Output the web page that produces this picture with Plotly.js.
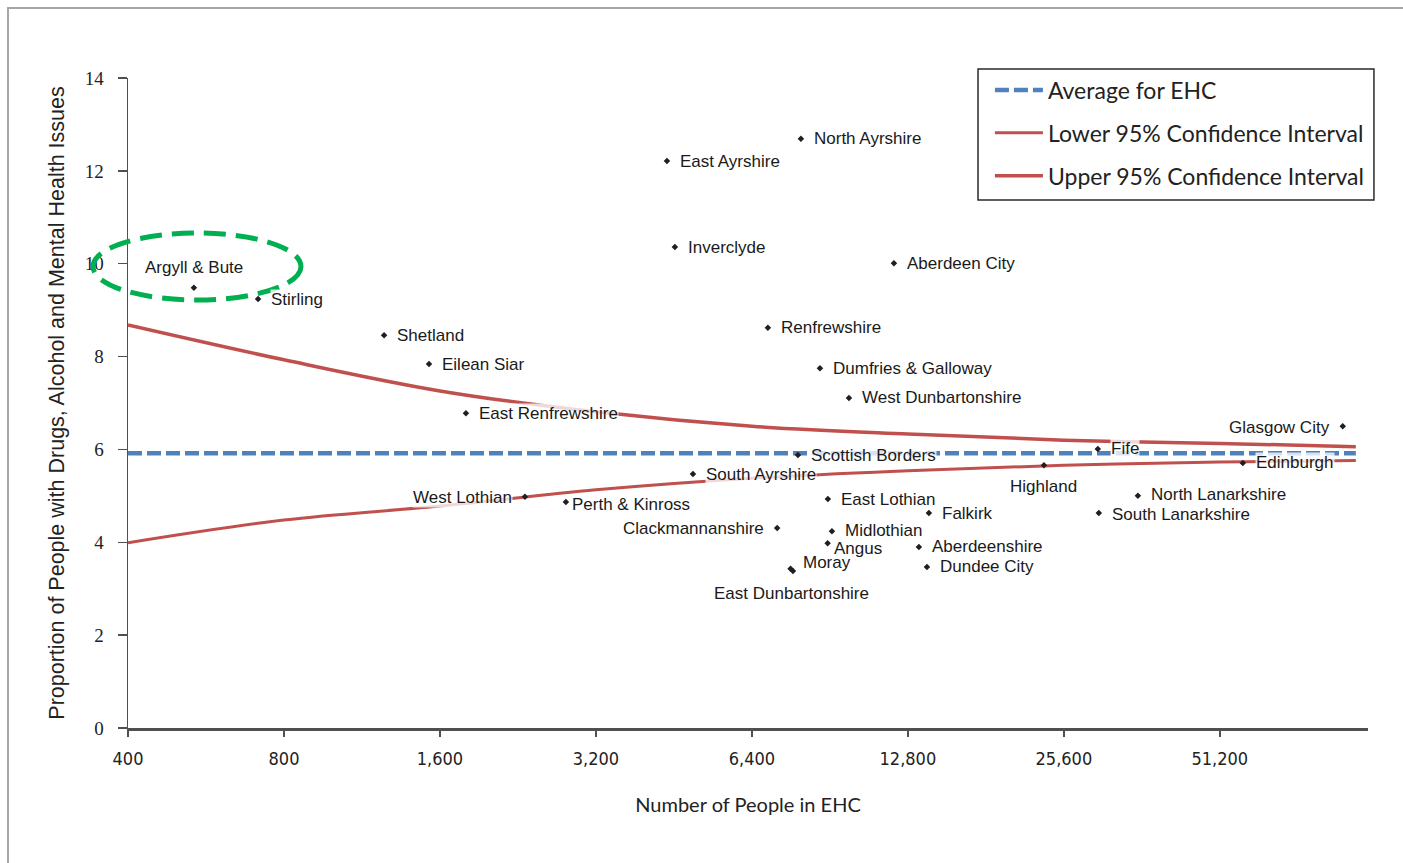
<!DOCTYPE html>
<html>
<head>
<meta charset="utf-8">
<script src="https://cdn.plot.ly/plotly-3.0.1.min.js"></script>
<style>
  html, body { margin: 0; padding: 0; background: #fff; }
  #chart { position: absolute; left: 0; top: 0; width: 1403px; height: 863px; }
  #frame { position: absolute; left: 7px; top: 7px; width: 1400px; height: 860px;
           border-left: 2px solid #a6a6a6; border-top: 2px solid #a6a6a6; pointer-events: none; }
</style>
</head>
<body>
<div id="chart"></div>
<div id="frame"></div>
<script>
// ---- Data ----
const areas = ["Argyll & Bute", "Stirling", "Shetland", "Eilean Siar", "East Renfrewshire",
  "West Lothian", "Perth & Kinross", "South Ayrshire", "East Ayrshire", "Inverclyde",
  "North Ayrshire", "Renfrewshire", "Clackmannanshire", "Scottish Borders", "Moray",
  "East Dunbartonshire", "Dumfries & Galloway", "East Lothian", "Midlothian", "Angus",
  "West Dunbartonshire", "Aberdeen City", "Aberdeenshire", "Dundee City", "Falkirk",
  "Highland", "Fife", "South Lanarkshire", "North Lanarkshire", "Edinburgh", "Glasgow City"];
const peopleInEHC = [536, 713, 1248, 1524, 1796,
  2334, 2800, 4924, 4387, 4545,
  7957, 6871, 7160, 7852, 7600,
  7680, 8659, 8969, 9133, 8960,
  9850, 12030, 13440, 13930, 14050,
  23430, 29770, 29900, 35570, 56700, 88400];
const proportion = [9.48, 9.24, 8.46, 7.84, 6.78,
  4.98, 4.87, 5.47, 12.21, 10.36,
  12.69, 8.62, 4.31, 5.88, 3.43,
  3.38, 7.75, 4.93, 4.24, 3.98,
  7.11, 10.01, 3.90, 3.47, 4.63,
  5.66, 6.01, 4.63, 5.00, 5.71, 6.50];

const ciX = [400, 800, 1600, 3200, 6400, 12800, 25600, 51200, 93700];
const upperCI = [8.68, 7.93, 7.26, 6.81, 6.50, 6.33, 6.20, 6.13, 6.06];
const lowerCI = [3.99, 4.48, 4.78, 5.13, 5.38, 5.54, 5.66, 5.73, 5.76];
const avgX = [400, 93700];
const avgEHC = [5.92, 5.92];

const xTickVals = [400, 800, 1600, 3200, 6400, 12800, 25600, 51200];
const xTickText = ["400", "800", "1,600", "3,200", "6,400", "12,800", "25,600", "51,200"];

// label placement (layout only)
const labelSide = ["above", "right", "right", "right", "right",
  "left", "rightclose", "right", "right", "right",
  "right", "right", "left", "right", "rightup",
  "belowleft", "right", "right", "rightup1", "rightlow",
  "right", "right", "right", "right", "right",
  "below", "right", "rightdown", "rightup1", "right", "left"];

// ---- Traces ----
const traces = [
  { x: avgX, y: avgEHC, mode: "lines", name: "Average for EHC", legendgroup: "a",
    line: { color: "#4F81BD", width: 4.5, dash: "14px,5px" }, hoverinfo: "skip" },
  { x: ciX, y: lowerCI, mode: "lines", name: "Lower 95% Confidence Interval", legendgroup: "b",
    line: { color: "#C0504D", width: 3, shape: "spline" }, hoverinfo: "skip" },
  { x: ciX, y: upperCI, mode: "lines", name: "Upper 95% Confidence Interval", legendgroup: "c",
    line: { color: "#C0504D", width: 3.5, shape: "spline" }, hoverinfo: "skip" },
  { x: peopleInEHC, y: proportion, text: areas, mode: "markers", showlegend: false,
    marker: { color: "#1f1f1f", size: 5, symbol: "diamond" } }
];

// ---- Labels ----
const annotations = areas.map((name, i) => {
  const a = { x: Math.log10(peopleInEHC[i]), y: proportion[i], text: name, showarrow: false,
    xref: "x", yref: "y", font: { family: "Liberation Sans, Arial, sans-serif", size: 17, color: "#1a1a1a" },
    bgcolor: "rgba(255,255,255,0.78)", borderpad: 0, yanchor: "middle" };
  const s = labelSide[i];
  if (s === "right") { a.xanchor = "left"; a.xshift = 12; }
  else if (s === "rightup1") { a.xanchor = "left"; a.xshift = 12; a.yshift = 1; }
  else if (s === "rightdown") { a.xanchor = "left"; a.xshift = 12; a.yshift = -1; }
  else if (s === "rightclose") { a.xanchor = "left"; a.xshift = 5; a.yshift = -3; }
  else if (s === "rightlow") { a.xanchor = "left"; a.xshift = 5; a.yshift = -5; }
  else if (s === "rightup") { a.xanchor = "left"; a.xshift = 11; a.yshift = 6; }
  else if (s === "left") { a.xanchor = "right"; a.xshift = -12; a.yshift = -1; }
  else if (s === "above") { a.xanchor = "center"; a.yshift = 20; }
  else if (s === "below") { a.xanchor = "center"; a.yshift = -21; }
  else if (s === "belowleft") { a.xanchor = "center"; a.xshift = -1; a.yshift = -22; }
  return a;
});

const layout = {
  width: 1403, height: 863,
  margin: { l: 128, r: 35, t: 78, b: 135 },
  paper_bgcolor: "#ffffff", plot_bgcolor: "#ffffff",
  showlegend: true,
  xaxis: {
    type: "log", range: [Math.log10(400), Math.log10(98900)],
    tickvals: xTickVals, ticktext: xTickText,
    showgrid: false, zeroline: false,
    showline: true, linecolor: "#505050", linewidth: 2.5,
    ticks: "outside", ticklen: 6, tickwidth: 1.5, tickcolor: "#505050",
    ticklabelstandoff: 7,
    tickfont: { family: "Liberation Sans Narrow, DejaVu Sans Condensed, sans-serif", size: 18, color: "#222" },
    title: { text: "Number of People in EHC", standoff: 30,
      font: { family: "Liberation Sans Narrow, Lato, sans-serif", size: 20, color: "#222" } }
  },
  yaxis: {
    range: [0, 14], tickvals: [0, 2, 4, 6, 8, 10, 12, 14],
    showgrid: false, zeroline: false,
    showline: true, linecolor: "#505050", linewidth: 1.5,
    ticks: "outside", ticklen: 9, tickwidth: 1.5, tickcolor: "#505050",
    ticklabelstandoff: 10,
    tickfont: { family: "Liberation Serif, DejaVu Serif, serif", size: 19, color: "#222" },
    title: { text: "Proportion of People with Drugs, Alcohol and Mental Health Issues", standoff: 14,
      font: { family: "Liberation Sans, Arial, sans-serif", size: 21.5, color: "#222" } }
  },
  legend: {
    x: 0.6951, y: 1.0147, xanchor: "left", yanchor: "top",
    bgcolor: "rgba(255,255,255,0)", borderwidth: 0,
    font: { family: "Lato, Liberation Sans, sans-serif", size: 23, color: "#222" },
    traceorder: "grouped", tracegroupgap: 10, itemwidth: 48
  },
  annotations: annotations,
  shapes: [
    { type: "rect", xref: "paper", yref: "paper", layer: "below",
      x0: 0.6855, x1: 1.0048, y0: 0.8123, y1: 1.0138,
      fillcolor: "#ffffff", line: { color: "#2a2a2a", width: 1.5 } },
    { type: "circle", xref: "paper", yref: "paper",
      x0: -0.0282, x1: 0.1395, y0: 0.6585, y1: 0.7615,
      line: { color: "#00B050", width: 5, dash: "22px,10px" } }
  ]
};

Plotly.newPlot("chart", traces, layout, { displayModeBar: false, staticPlot: true });
</script>
</body>
</html>
